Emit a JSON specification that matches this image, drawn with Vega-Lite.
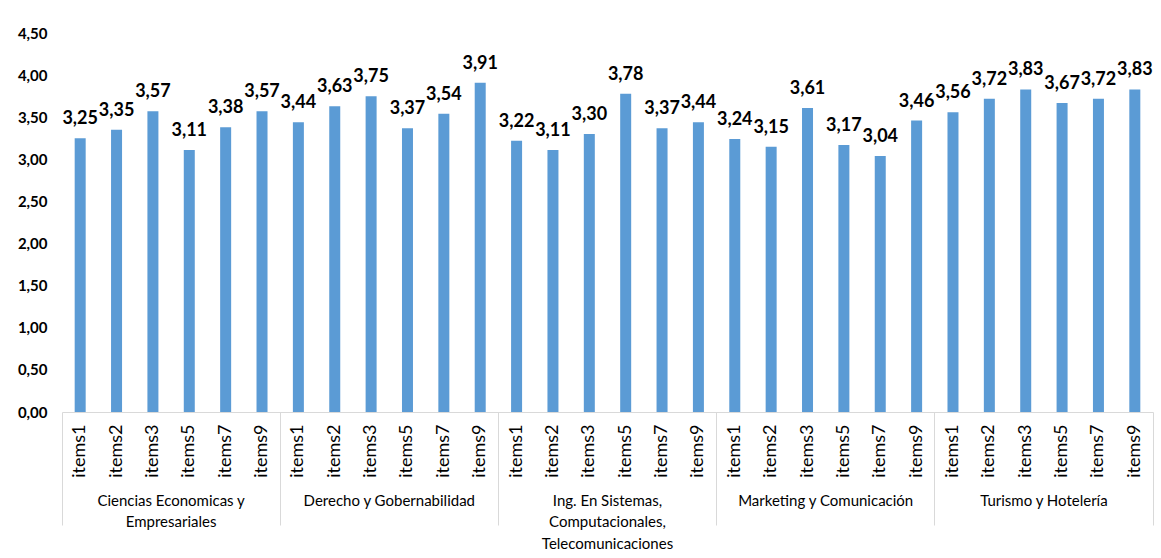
{
  "$schema": "https://vega.github.io/schema/vega-lite/v6.json",
  "autosize": "none",
  "width": 1091,
  "height": 379,
  "padding": {"left": 62, "top": 33, "right": 8, "bottom": 146},
  "config": {
    "font": "Lato",
    "view": {"stroke": null},
    "locale": {"number": {"decimal": ",", "thousands": ".", "grouping": [3], "currency": ["", " €"]}}
  },
  "data": {"values": [
    {"g": "Ciencias Economicas y|Empresariales", "item": "items1", "k": "1-items1", "v": 3.25},
    {"g": "Ciencias Economicas y|Empresariales", "item": "items2", "k": "1-items2", "v": 3.35},
    {"g": "Ciencias Economicas y|Empresariales", "item": "items3", "k": "1-items3", "v": 3.57},
    {"g": "Ciencias Economicas y|Empresariales", "item": "items5", "k": "1-items5", "v": 3.11},
    {"g": "Ciencias Economicas y|Empresariales", "item": "items7", "k": "1-items7", "v": 3.38},
    {"g": "Ciencias Economicas y|Empresariales", "item": "items9", "k": "1-items9", "v": 3.57},
    {"g": "Derecho y Gobernabilidad", "item": "items1", "k": "2-items1", "v": 3.44},
    {"g": "Derecho y Gobernabilidad", "item": "items2", "k": "2-items2", "v": 3.63},
    {"g": "Derecho y Gobernabilidad", "item": "items3", "k": "2-items3", "v": 3.75},
    {"g": "Derecho y Gobernabilidad", "item": "items5", "k": "2-items5", "v": 3.37},
    {"g": "Derecho y Gobernabilidad", "item": "items7", "k": "2-items7", "v": 3.54},
    {"g": "Derecho y Gobernabilidad", "item": "items9", "k": "2-items9", "v": 3.91},
    {"g": "Ing. En Sistemas,|Computacionales,|Telecomunicaciones", "item": "items1", "k": "3-items1", "v": 3.22},
    {"g": "Ing. En Sistemas,|Computacionales,|Telecomunicaciones", "item": "items2", "k": "3-items2", "v": 3.11},
    {"g": "Ing. En Sistemas,|Computacionales,|Telecomunicaciones", "item": "items3", "k": "3-items3", "v": 3.30},
    {"g": "Ing. En Sistemas,|Computacionales,|Telecomunicaciones", "item": "items5", "k": "3-items5", "v": 3.78},
    {"g": "Ing. En Sistemas,|Computacionales,|Telecomunicaciones", "item": "items7", "k": "3-items7", "v": 3.37},
    {"g": "Ing. En Sistemas,|Computacionales,|Telecomunicaciones", "item": "items9", "k": "3-items9", "v": 3.44},
    {"g": "Marketing y Comunicación", "item": "items1", "k": "4-items1", "v": 3.24},
    {"g": "Marketing y Comunicación", "item": "items2", "k": "4-items2", "v": 3.15},
    {"g": "Marketing y Comunicación", "item": "items3", "k": "4-items3", "v": 3.61},
    {"g": "Marketing y Comunicación", "item": "items5", "k": "4-items5", "v": 3.17},
    {"g": "Marketing y Comunicación", "item": "items7", "k": "4-items7", "v": 3.04},
    {"g": "Marketing y Comunicación", "item": "items9", "k": "4-items9", "v": 3.46},
    {"g": "Turismo y Hotelería", "item": "items1", "k": "5-items1", "v": 3.56},
    {"g": "Turismo y Hotelería", "item": "items2", "k": "5-items2", "v": 3.72},
    {"g": "Turismo y Hotelería", "item": "items3", "k": "5-items3", "v": 3.83},
    {"g": "Turismo y Hotelería", "item": "items5", "k": "5-items5", "v": 3.67},
    {"g": "Turismo y Hotelería", "item": "items7", "k": "5-items7", "v": 3.72},
    {"g": "Turismo y Hotelería", "item": "items9", "k": "5-items9", "v": 3.83}
  ]},
  "layer": [
    {
      "mark": {"type": "bar", "color": "#5b9bd5", "width": 11},
      "encoding": {
        "x": {
          "field": "k", "type": "nominal", "sort": null,
          "scale": {"paddingInner": 0, "paddingOuter": 0},
          "axis": {
            "orient": "bottom", "title": null, "domain": true, "domainColor": "#d9d9d9", "grid": false,
            "ticks": true, "bandPosition": 1, "tickSize": 113, "tickColor": "#d9d9d9", "tickWidth": 1,
            "tickOpacity": {"condition": {"test": "datum.value === '5-items9'", "value": 1}, "value": 0},
            "labelExpr": "split(datum.value, '-')[1]",
            "labelAngle": -90, "labelFontSize": 18, "labelColor": "#000000", "labelPadding": -101
          }
        },
        "y": {
          "field": "v", "type": "quantitative",
          "scale": {"domain": [0, 4.5], "nice": false},
          "axis": {
            "title": null, "domain": false, "ticks": false, "grid": false,
            "values": [0, 0.5, 1, 1.5, 2, 2.5, 3, 3.5, 4, 4.5], "format": ".2f",
            "labelFontWeight": "bold", "labelFontSize": 15, "labelColor": "#000000", "labelPadding": 15
          }
        }
      }
    },
    {
      "mark": {"type": "text", "baseline": "alphabetic", "dy": -14, "fontWeight": "bold", "fontSize": 18, "color": "#000000"},
      "encoding": {
        "x": {
          "field": "g", "type": "nominal", "sort": null,
          "scale": {"paddingInner": 0, "paddingOuter": 0},
          "axis": {
            "orient": "bottom", "title": null, "domain": false, "grid": false,
            "ticks": true, "bandPosition": 0, "tickSize": 113, "tickColor": "#d9d9d9", "tickWidth": 1,
            "labelAngle": 0, "labelAlign": "center", "labelBaseline": "top",
            "labelExpr": "split(datum.value, '|')", "labelFontSize": 15, "labelColor": "#000000",
            "labelLineHeight": 21.5, "labelPadding": -32, "labelLimit": 300
          }
        },
        "xOffset": {"field": "item", "type": "nominal", "sort": null, "scale": {"type": "point", "padding": 0.5}},
        "y": {"field": "v", "type": "quantitative"},
        "text": {"field": "v", "type": "quantitative", "format": ".2f"}
      }
    }
  ],
  "resolve": {"scale": {"x": "independent"}, "axis": {"x": "independent"}}
}
